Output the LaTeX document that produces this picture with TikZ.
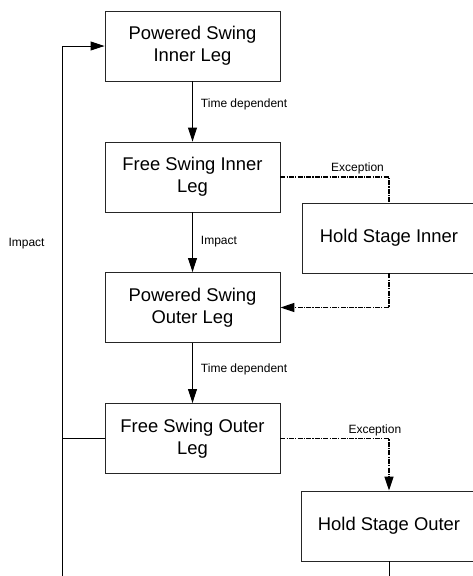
\documentclass[tikz,border=0pt]{standalone}
\usepackage{fontspec}
\setmainfont{Liberation Sans}
\usetikzlibrary{arrows.meta}
\tikzset{
  stbox/.style={draw=black!85, line width=0.9pt, minimum width=175pt, minimum height=70pt,
    align=center, inner sep=0pt, font=\fontsize{18.4}{22}\selectfont},
  arr/.style={line width=0.9pt, -{Triangle[length=14pt,width=9pt]}},
  conn/.style={line width=0.9pt},
  exc/.style={line width=1.3pt, dash pattern=on 5pt off 1.2pt on 1.2pt off 1.2pt},
  lbl/.style={font=\fontsize{12}{14}\selectfont, inner sep=2pt}
}
\begin{document}
\begin{tikzpicture}[x=1pt,y=-1pt]
\clip (0,0) rectangle (473,576);
\fill[white] (0,0) rectangle (473,576);
\node[stbox] (b1) at (192.5,46) {Powered Swing\\Inner Leg};
\node[stbox] (b2) at (192.5,177) {Free Swing Inner\\Leg};
\node[stbox] (b3) at (192.5,307.5) {Powered Swing\\Outer Leg};
\node[stbox] (b4) at (192.5,438.5) {Free Swing Outer\\Leg};
\node[stbox, minimum width=174pt] (hsi) at (389,238) {Hold Stage Inner};
\node[stbox, minimum width=176pt] (hso) at (389,526) {Hold Stage Outer};
\coordinate (lb) at (62,578);
\coordinate (hb) at (389,578);

\draw[arr] (b1) -- node[lbl, pos=0.38, anchor=west, xshift=6pt] {Time dependent} (b2);
\draw[arr] (b2) -- node[lbl, pos=0.49, anchor=west, xshift=6pt] {Impact} (b3);
\draw[arr] (b3) -- node[lbl, pos=0.44, anchor=west, xshift=6pt] {Time dependent} (b4);

\draw[exc] (b2.east) -| node[lbl, pos=0.355, anchor=south] {Exception} (hsi.north);
\draw[exc, -{Triangle[length=14pt,width=9pt]}, dash pattern=on 5pt off 1.2pt on 1.2pt off 1.2pt] (hsi.south) |- (b3.east);
\draw[exc, -{Triangle[length=14pt,width=9pt]}] (b4.east) -| node[lbl, pos=0.435, anchor=south] {Exception} (hso.north);

\draw[conn] (hso.south) -- (hb);
\draw[arr] (lb) |- node[lbl, pos=0.314, anchor=east, xshift=-15pt] {Impact} (b1.west);
\draw[conn] (b4.west) -- (b4.west -| lb);
\end{tikzpicture}
\end{document}
